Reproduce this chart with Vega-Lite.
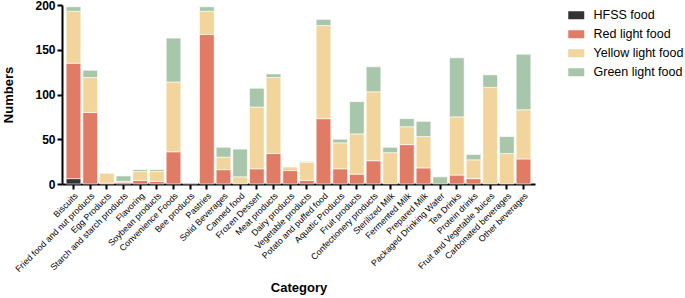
{
  "$schema": "https://vega.github.io/schema/vega-lite/v6.json",
  "autosize": {"type": "none"},
  "padding": {"left": 62, "top": 5, "right": 150, "bottom": 114},
  "width": 473,
  "height": 179,
  "background": "white",
  "config": {"view": {"stroke": null}, "font": "Liberation Sans"},
  "data": {"values": [
    {"c":"Biscuits","t":"HFSS food","v":6},{"c":"Biscuits","t":"Red light food","v":129},{"c":"Biscuits","t":"Yellow light food","v":58},{"c":"Biscuits","t":"Green light food","v":5},
    {"c":"Fried food and nut products","t":"Red light food","v":80},{"c":"Fried food and nut products","t":"Yellow light food","v":39},{"c":"Fried food and nut products","t":"Green light food","v":8},
    {"c":"Egg Products","t":"Red light food","v":1},{"c":"Egg Products","t":"Yellow light food","v":11},
    {"c":"Starch and starch products","t":"Red light food","v":2},{"c":"Starch and starch products","t":"Yellow light food","v":1},{"c":"Starch and starch products","t":"Green light food","v":6},
    {"c":"Flavoring","t":"Red light food","v":4},{"c":"Flavoring","t":"Yellow light food","v":10},{"c":"Flavoring","t":"Green light food","v":2},
    {"c":"Soybean products","t":"Red light food","v":3},{"c":"Soybean products","t":"Yellow light food","v":11},{"c":"Soybean products","t":"Green light food","v":2},
    {"c":"Convenience Foods","t":"Red light food","v":36},{"c":"Convenience Foods","t":"Yellow light food","v":78},{"c":"Convenience Foods","t":"Green light food","v":49},
    {"c":"Bee products","t":"Red light food","v":1},
    {"c":"Pastries","t":"Red light food","v":167},{"c":"Pastries","t":"Yellow light food","v":26},{"c":"Pastries","t":"Green light food","v":5},
    {"c":"Solid Beverages","t":"Red light food","v":16},{"c":"Solid Beverages","t":"Yellow light food","v":14},{"c":"Solid Beverages","t":"Green light food","v":11},
    {"c":"Canned food","t":"Yellow light food","v":8},{"c":"Canned food","t":"Green light food","v":31},
    {"c":"Frozen Dessert","t":"Red light food","v":17},{"c":"Frozen Dessert","t":"Yellow light food","v":69},{"c":"Frozen Dessert","t":"Green light food","v":21},
    {"c":"Meat products","t":"Red light food","v":34},{"c":"Meat products","t":"Yellow light food","v":85},{"c":"Meat products","t":"Green light food","v":4},
    {"c":"Dairy products","t":"Red light food","v":15},{"c":"Dairy products","t":"Yellow light food","v":4},
    {"c":"Vegetable products","t":"Red light food","v":4},{"c":"Vegetable products","t":"Yellow light food","v":20},{"c":"Vegetable products","t":"Green light food","v":1},
    {"c":"Potato and puffed food","t":"Red light food","v":73},{"c":"Potato and puffed food","t":"Yellow light food","v":104},{"c":"Potato and puffed food","t":"Green light food","v":7},
    {"c":"Aquatic Products","t":"Red light food","v":17},{"c":"Aquatic Products","t":"Yellow light food","v":29},{"c":"Aquatic Products","t":"Green light food","v":4},
    {"c":"Fruit products","t":"Red light food","v":11},{"c":"Fruit products","t":"Yellow light food","v":45},{"c":"Fruit products","t":"Green light food","v":36},
    {"c":"Confectionery products","t":"Red light food","v":26},{"c":"Confectionery products","t":"Yellow light food","v":77},{"c":"Confectionery products","t":"Green light food","v":28},
    {"c":"Sterilized Milk","t":"Yellow light food","v":35},{"c":"Sterilized Milk","t":"Green light food","v":6},
    {"c":"Fermented Milk","t":"Red light food","v":44},{"c":"Fermented Milk","t":"Yellow light food","v":20},{"c":"Fermented Milk","t":"Green light food","v":9},
    {"c":"Prepared Milk","t":"Red light food","v":18},{"c":"Prepared Milk","t":"Yellow light food","v":35},{"c":"Prepared Milk","t":"Green light food","v":17},
    {"c":"Packaged Drinking Water","t":"Green light food","v":8},
    {"c":"Tea Drinks","t":"Red light food","v":10},{"c":"Tea Drinks","t":"Yellow light food","v":65},{"c":"Tea Drinks","t":"Green light food","v":66},
    {"c":"Protein drinks","t":"Red light food","v":6},{"c":"Protein drinks","t":"Yellow light food","v":21},{"c":"Protein drinks","t":"Green light food","v":6},
    {"c":"Fruit and Vegetable Juices","t":"Yellow light food","v":108},{"c":"Fruit and Vegetable Juices","t":"Green light food","v":14},
    {"c":"Carbonated beverages","t":"Yellow light food","v":34},{"c":"Carbonated beverages","t":"Green light food","v":19},
    {"c":"Other beverages","t":"Red light food","v":28},{"c":"Other beverages","t":"Yellow light food","v":55},{"c":"Other beverages","t":"Green light food","v":62}
  ]},
  "transform": [
    {"calculate": "indexof(['HFSS food','Red light food','Yellow light food','Green light food'], datum.t)", "as": "o"}
  ],
  "mark": {"type": "bar", "stroke": "white", "strokeWidth": 0.6},
  "encoding": {
    "x": {
      "field": "c", "type": "nominal", "sort": null,
      "scale": {"paddingInner": 0.12, "paddingOuter": 0.25},
      "axis": {
        "title": "Category", "titleFontSize": 13, "titleFontWeight": "bold", "titleColor": "black", "titlePadding": 8,
        "labelAngle": -45, "labelFontSize": 8.8, "labelColor": "black", "labelPadding": 2,
        "domainColor": "black", "domainWidth": 2, "tickColor": "black", "tickWidth": 2, "tickSize": 5
      }
    },
    "y": {
      "field": "v", "type": "quantitative", "aggregate": "sum", "stack": "zero",
      "scale": {"domain": [0, 200], "nice": false},
      "axis": {
        "title": "Numbers", "titleFontSize": 13, "titleFontWeight": "bold", "titleColor": "black", "titlePadding": 19,
        "values": [0, 50, 100, 150, 200], "labelFontSize": 12, "labelFontWeight": "bold", "labelColor": "black",
        "grid": false, "domainColor": "black", "domainWidth": 2, "tickColor": "black", "tickWidth": 2, "tickSize": 5, "labelPadding": 2
      }
    },
    "color": {
      "field": "t", "type": "nominal",
      "scale": {"domain": ["HFSS food", "Red light food", "Yellow light food", "Green light food"], "range": ["#333333", "#E07B65", "#F2D59C", "#A8C6A9"]},
      "legend": {
        "title": null, "orient": "none", "legendX": 508, "legendY": 4,
        "symbolType": "M-2,-1H2V1H-2Z", "symbolSize": 64, "symbolStrokeWidth": 0,
        "labelFontSize": 12.5, "labelColor": "black", "rowPadding": 6, "labelOffset": 11
      }
    },
    "order": {"field": "o", "type": "quantitative"}
  }
}
